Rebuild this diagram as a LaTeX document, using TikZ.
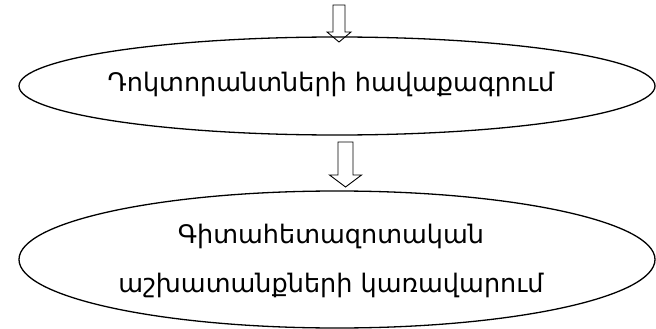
\documentclass[tikz,border=0pt]{standalone}
\usepackage{fontspec}
\setmainfont{DejaVu Sans}
\usetikzlibrary{shapes.geometric}
\begin{document}
\begin{tikzpicture}[x=1pt,y=-1pt,
  stage/.style={draw, ellipse, line width=1.3pt, inner sep=0pt},
  stagetext/.style={font=\fontsize{25.5}{31}\selectfont, align=center, inner sep=0pt},
  blockarrow/.style={draw, line width=0.9pt, line join=miter}]
  \useasboundingbox (0,0) rectangle (656,329);

  % stages
  \node[stage, minimum width=636pt, minimum height=98pt] (s1) at (337,86) {};
  \node[stagetext] (t1) at (331,84) {Դոկտորանտների հավաքագրում};

  \node[stage, minimum width=636pt, minimum height=137pt] (s2) at (337,259.5) {};
  \node[stagetext] (t2) at (331,261) {Գիտահետազոտական\\[18pt]աշխատանքների կառավարում};

  % incoming block arrow
  \coordinate (a1) at (339,5);
  \draw[blockarrow] (333,5) -- (345,5) -- (345,32) -- (351,32) -- (339,42)
    -- (327,32) -- (333,32) -- cycle;

  % block arrow between the stages
  \coordinate (a2) at (345.5,142);
  \draw[blockarrow] (338,142) -- (353,142) -- (353,175) -- (361.5,175) -- (345.5,187)
    -- (329.5,175) -- (338,175) -- cycle;
\end{tikzpicture}
\end{document}
